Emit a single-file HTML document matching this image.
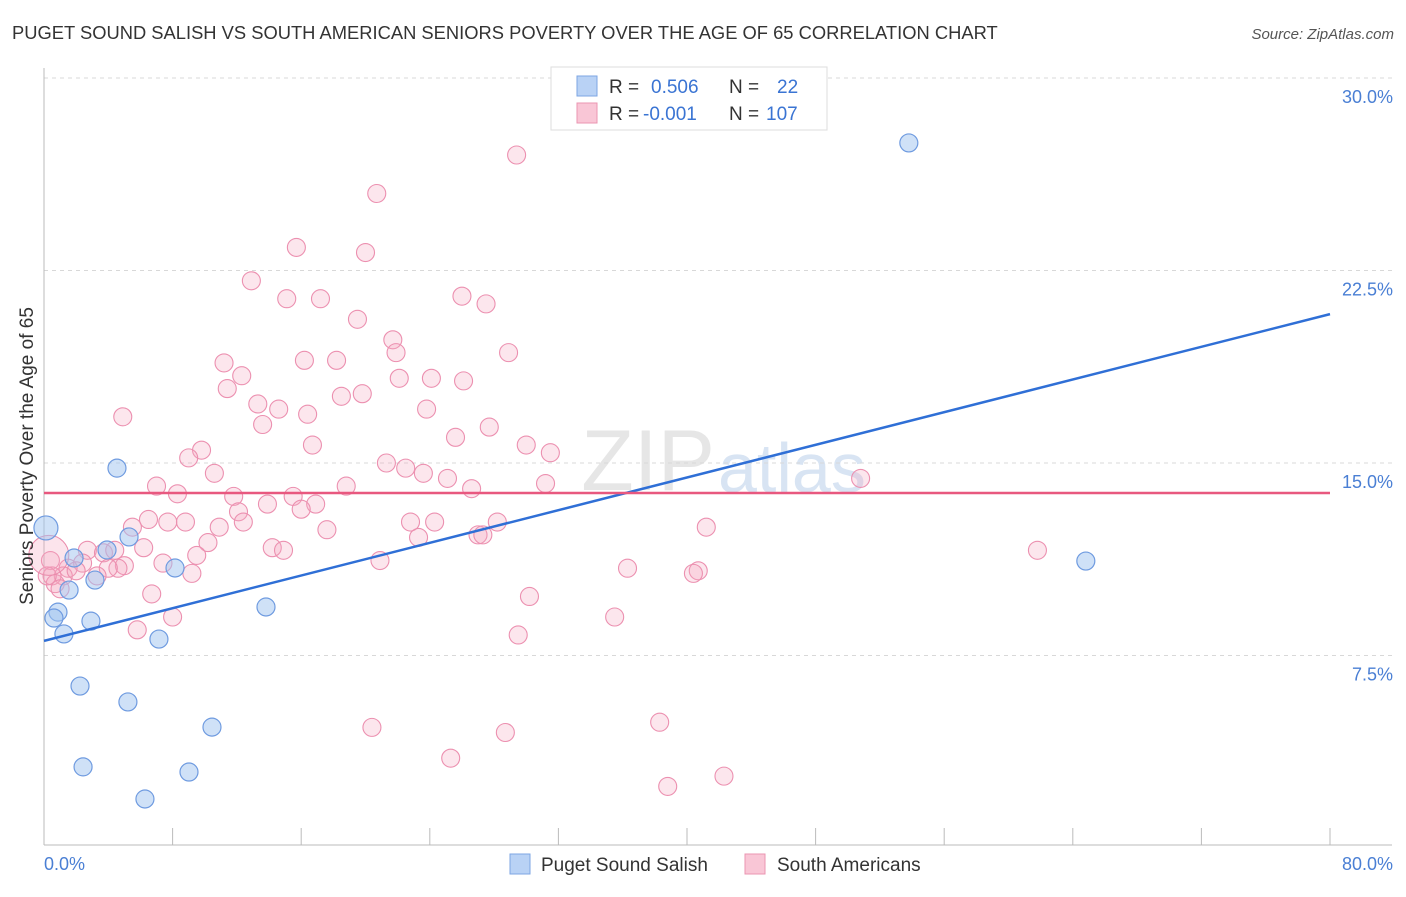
<!DOCTYPE html>
<html><head><meta charset="utf-8"><style>
body{margin:0;background:#fff;font-family:"Liberation Sans",sans-serif;}
svg text{font-family:"Liberation Sans",sans-serif;}
</style></head><body>
<svg id="chart" width="1406" height="892" viewBox="0 0 1406 892">
<text x="12" y="39" font-size="18.35" fill="#333">PUGET SOUND SALISH VS SOUTH AMERICAN SENIORS POVERTY OVER THE AGE OF 65 CORRELATION CHART</text>
<text x="1394" y="39" font-size="15" fill="#555" font-style="italic" text-anchor="end">Source: ZipAtlas.com</text>
<text x="715" y="490" font-size="86" fill="#e6e6e6" font-family="Liberation Serif" text-anchor="end">ZIP</text>
<text x="718" y="492" font-size="70" fill="#d8e4f3">atlas</text>
<g id="grid"></g>
<g id="axes"></g>
<g id="pts"></g>
<g id="lines"></g>
<text transform="translate(33,456) rotate(-90)" font-size="19" fill="#333" text-anchor="middle">Seniors Poverty Over the Age of 65</text>
<text x="44" y="870" font-size="18" fill="#4a7fd4">0.0%</text>
<text x="1393" y="870" font-size="18" fill="#4a7fd4" text-anchor="end">80.0%</text>
<g>
<rect x="551" y="67" width="276" height="63" fill="#fff" stroke="#ddd"/>
<rect x="577" y="76" width="20" height="20" fill="#b9d2f5" stroke="#7da6e3"/>
<rect x="577" y="103" width="20" height="20" fill="#f9c6d6" stroke="#eb95b1"/>
<text x="609" y="93" font-size="19" fill="#333">R =</text>
<text x="651" y="93" font-size="19" fill="#3a74d3">0.506</text>
<text x="729" y="93" font-size="19" fill="#333">N =</text>
<text x="777" y="93" font-size="19" fill="#3a74d3">22</text>
<text x="609" y="120" font-size="19" fill="#333">R =</text>
<text x="643" y="120" font-size="19" fill="#3a74d3">-0.001</text>
<text x="729" y="120" font-size="19" fill="#333">N =</text>
<text x="766" y="120" font-size="19" fill="#3a74d3">107</text>
</g>
<g>
<rect x="510" y="854" width="20" height="20" fill="#b9d2f5" stroke="#7da6e3"/>
<text x="541" y="871" font-size="19" fill="#333">Puget Sound Salish</text>
<rect x="745" y="854" width="20" height="20" fill="#f9c6d6" stroke="#eb95b1"/>
<text x="777" y="871" font-size="19" fill="#333">South Americans</text>
</g>
</svg>
<script>
const yTicks=[7.5,15,22.5,30];
const yTickLabels=["7.5%","15.0%","22.5%","30.0%"];
const xTicks=[0,8,16,24,32,40,48,56,64,72,80];
const blueX=[0.12,4.54,5.29,3.92,1.87,8.15,1.56,3.17,0.87,0.62,2.92,1.24,7.15,13.81,2.24,5.22,10.45,2.43,9.02,6.28,53.8,64.81];
const blueY=[12.47,14.8,12.12,11.61,11.3,10.91,10.05,10.44,9.19,8.96,8.84,8.34,8.14,9.39,6.31,5.69,4.71,3.16,2.96,1.91,27.47,11.18];
const pinkX=[29.4,20.7,15.7,20.0,12.9,15.1,17.2,26.0,27.5,19.5,21.7,21.9,28.9,11.2,16.2,18.2,12.3,22.1,24.1,26.1,11.4,19.8,18.5,13.3,23.8,14.6,4.9,16.4,13.6,27.7,25.6,16.7,30.0,9.8,9.0,31.5,21.3,22.5,23.6,10.6,25.1,7.0,18.8,26.6,31.2,50.8,8.3,11.8,15.5,16.9,13.9,16.0,12.1,6.5,8.8,7.7,5.5,10.9,12.4,22.8,24.3,28.2,41.2,17.6,23.3,27.0,27.3,10.2,14.2,6.2,14.9,9.5,2.7,3.7,4.4,61.8,20.9,2.4,5.0,4.6,7.4,1.5,1.2,2.0,4.0,3.3,36.3,40.7,40.4,9.2,0.4,0.5,0.7,1.0,6.7,30.2,35.5,8.0,5.8,29.5,20.4,38.3,28.7,25.3,42.3,38.8,0.2];
const pinkY=[27.0,25.5,23.4,23.2,22.1,21.4,21.4,21.5,21.2,20.6,19.8,19.3,19.3,18.9,19.0,19.0,18.4,18.3,18.3,18.2,17.9,17.7,17.6,17.3,17.1,17.1,16.8,16.9,16.5,16.4,16.0,15.7,15.7,15.5,15.2,15.4,15.0,14.8,14.6,14.6,14.4,14.1,14.1,14.0,14.2,14.4,13.8,13.7,13.7,13.4,13.4,13.2,13.1,12.8,12.7,12.7,12.5,12.5,12.7,12.7,12.7,12.7,12.5,12.4,12.1,12.2,12.2,11.9,11.7,11.7,11.6,11.4,11.6,11.5,11.6,11.6,11.2,11.1,11.0,10.9,11.1,10.9,10.6,10.8,10.9,10.6,10.9,10.8,10.7,10.7,11.2,10.6,10.3,10.1,9.9,9.8,9.0,9.0,8.5,8.3,4.7,4.9,4.5,3.5,2.8,2.4,10.6];
const blueFit=[8.07,20.8];
const pinkFit=[13.83,13.83];
const ns="http://www.w3.org/2000/svg";
const X=v=>44+v/80*1286;
const Y=v=>848-v/30*770;
function mk(t,a,p){const e=document.createElementNS(ns,t);for(const k in a)e.setAttribute(k,a[k]);p.appendChild(e);return e;}
const grid=document.getElementById('grid'),axes=document.getElementById('axes'),pts=document.getElementById('pts'),lines=document.getElementById('lines');
yTicks.forEach((t,i)=>{
 const l=mk('line',{x1:44,x2:1392,y1:Y(t),y2:Y(t),stroke:'#d8d8d8','stroke-dasharray':'4,4'},grid);
 
 
 const tx=mk('text',{x:1393,y:Y(t)+25,'font-size':18,fill:'#4a7fd4','text-anchor':'end'},grid);
 tx.textContent=yTickLabels[i];
 
 
});
const ax=mk('line',{x1:44,x2:1392,y1:845,y2:845,stroke:'#bbb'},axes);


const ay=mk('line',{x1:44,x2:44,y1:68,y2:845,stroke:'#bbb'},axes);


xTicks.forEach(t=>{
 const l=mk('line',{x1:X(t),x2:X(t),y1:828,y2:845,stroke:'#bbb'},axes);
 
 
});
pinkX.forEach((x,i)=>{
 const c=mk('circle',{cx:X(x),cy:Y(pinkY[i]),r:9,fill:'rgba(244,165,192,0.28)',stroke:'#ec90b0','stroke-width':1.1},pts);
 
 
});
const big=mk('circle',{cx:X(0.3),cy:Y(11.4),r:20,fill:'rgba(244,165,192,0.3)',stroke:'#ea8aab','stroke-width':1},pts);


blueX.forEach((x,i)=>{
 const c=mk('circle',{cx:X(x),cy:Y(blueY[i]),r:i==0?12:9,fill:'rgba(160,195,240,0.5)',stroke:'#6f9be0','stroke-width':1.2},pts);
 
 
});
const bl=mk('line',{x1:X(0),x2:X(80),y1:Y(blueFit[0]),y2:Y(blueFit[1]),stroke:'#2f6fd6','stroke-width':2.5},lines);


const pl=mk('line',{x1:X(0),x2:X(80),y1:Y(pinkFit[0]),y2:Y(pinkFit[1]),stroke:'#e8587f','stroke-width':2.5},lines);


</script>
</body></html>
